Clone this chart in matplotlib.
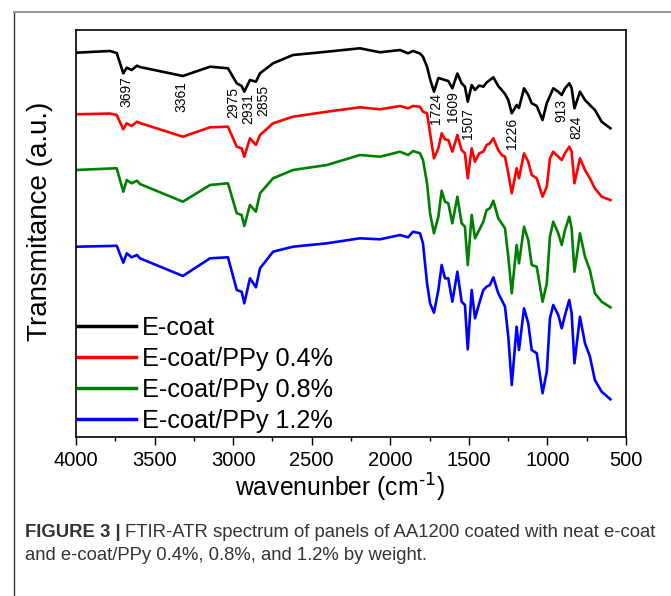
import numpy as np
import matplotlib
matplotlib.use('Agg')
import matplotlib.pyplot as plt
from matplotlib import font_manager
from matplotlib.lines import Line2D
from matplotlib.ticker import MultipleLocator

# font setup - arial-like
names = set(f.name for f in font_manager.fontManager.ttflist)
plt.rcParams['font.family'] = ['Liberation Sans', 'DejaVu Sans']
cap_font = 'Liberation Sans Narrow' if 'Liberation Sans Narrow' in names else 'Liberation Sans'

# wavenumber grid (cm-1)
wavenumber = [4000, 3784, 3741, 3699, 3677, 3646, 3612, 3593, 3320, 3147,
              3033, 2977, 2946, 2929, 2893, 2855, 2829, 2746, 2619, 2403,
              2193, 2065, 1938, 1887, 1855, 1811, 1792, 1766, 1747, 1722,
              1694, 1673, 1652, 1631, 1605, 1573, 1546, 1525, 1507, 1482,
              1461, 1434, 1408, 1387, 1366, 1344, 1313, 1291, 1270, 1249,
              1227, 1196, 1181, 1149, 1122, 1100, 1068, 1031, 1004, 984,
              963, 931, 909, 888, 861, 846, 828, 793, 761, 730,
              698, 655, 599]

# transmittance (a.u., curves already offset as in the figure)
ecoat = [38.43, 38.60, 38.40, 36.37, 36.93, 36.70, 37.13, 37.00, 36.10, 37.03,
         36.87, 35.37, 35.10, 34.53, 35.70, 35.53, 36.37, 37.37, 38.20, 38.53,
         38.87, 38.47, 38.70, 38.37, 38.60, 38.35, 38.03, 37.03, 35.80, 34.53,
         35.90, 35.80, 35.70, 35.60, 34.87, 36.35, 35.37, 35.03, 33.53, 35.20,
         34.70, 35.15, 35.03, 35.45, 35.70, 35.97, 35.10, 34.70, 34.30, 33.70,
         32.37, 33.20, 32.90, 34.87, 34.20, 33.37, 33.10, 31.70, 33.40, 34.10,
         34.87, 34.53, 34.20, 34.87, 35.37, 34.90, 32.87, 34.53, 33.70, 33.20,
         32.70, 31.53, 30.87]

ppy04 = [32.27, 32.35, 32.20, 30.77, 31.37, 31.10, 31.53, 31.40, 30.03, 30.97,
         31.03, 29.03, 28.87, 28.03, 29.87, 29.20, 30.20, 31.37, 32.03, 32.53,
         32.97, 32.77, 33.10, 32.87, 33.10, 33.03, 32.53, 32.37, 30.40, 27.87,
         28.87, 30.37, 29.77, 29.70, 28.53, 30.20, 28.70, 28.37, 25.87, 28.87,
         27.53, 28.37, 28.53, 29.20, 29.37, 29.87, 28.70, 28.20, 28.03, 26.37,
         24.37, 26.87, 25.87, 28.37, 27.53, 26.20, 25.87, 24.03, 25.03, 27.87,
         28.53, 28.03, 27.70, 28.40, 29.03, 28.53, 25.37, 27.87, 26.70, 25.87,
         24.87, 24.03, 23.70]

ppy08 = [26.70, 26.85, 26.87, 24.53, 25.70, 25.37, 25.63, 25.30, 23.53, 25.20,
         25.37, 22.37, 22.20, 21.10, 23.20, 22.53, 24.37, 25.87, 26.70, 27.20,
         28.20, 28.03, 28.53, 28.20, 28.60, 28.37, 27.70, 25.37, 22.37, 20.37,
         22.03, 24.63, 23.53, 23.37, 21.37, 24.03, 21.37, 21.03, 17.20, 22.20,
         19.87, 20.70, 21.53, 22.70, 22.87, 23.63, 21.87, 21.37, 20.87, 18.03,
         14.37, 19.20, 17.37, 21.03, 19.70, 17.20, 17.03, 13.53, 15.37, 20.03,
         21.53, 20.37, 19.20, 20.70, 22.03, 20.87, 16.53, 20.37, 18.03, 16.70,
         14.37, 13.53, 12.97]

ppy12 = [19.03, 19.10, 19.13, 17.43, 18.37, 17.97, 18.20, 17.87, 16.10, 17.87,
         17.97, 14.70, 14.53, 13.37, 15.87, 14.97, 16.87, 18.53, 19.03, 19.37,
         19.87, 19.77, 20.20, 19.97, 20.53, 20.37, 19.37, 15.37, 13.37, 12.43,
         14.70, 17.20, 15.87, 15.87, 13.53, 16.53, 13.53, 13.20, 8.77, 14.70,
         11.87, 13.37, 14.70, 15.03, 15.20, 15.97, 14.37, 13.70, 13.03, 10.03,
         5.20, 11.03, 8.70, 12.87, 11.37, 8.70, 8.37, 4.37, 6.53, 11.87,
         13.20, 12.20, 10.87, 12.20, 13.70, 12.37, 7.37, 12.03, 9.37, 8.07,
         5.70, 4.53, 3.77]

series_names = ['E-coat', 'E-coat/PPy 0.4%', 'E-coat/PPy 0.8%', 'E-coat/PPy 1.2%']
series_colors = ['black', '#ff0000', '#008000', '#0000ff']

# peak labels: text, x position (cm-1), y position (a.u.)
peak_text = ['3697', '3361', '2975', '2931', '2855', '1724', '1609', '1507', '1226', '913', '824']
peak_x = [3677, 3327, 3000, 2905, 2808, 1709, 1599, 1504, 1227, 909, 818]
peak_y = [34.5, 34.0, 33.5, 32.8, 33.65, 32.8, 33.0, 31.35, 30.35, 32.7, 31.0]

fig = plt.figure(figsize=(6.71, 5.96), dpi=100)
ax = fig.add_axes([76/671, 1-437/596, 550/671, 407/596])

for y, name, c in zip([ecoat, ppy04, ppy08, ppy12], series_names, series_colors):
    ax.plot(wavenumber, y, color=c, lw=1.9, label=name, solid_joinstyle='round')

for t, x, y in zip(peak_text, peak_x, peak_y):
    ax.text(x, y, t, rotation=90, ha='center', va='center', fontsize=10)

ax.set_xlim(4000, 500)
ax.set_ylim(0, 40.7)
ax.xaxis.set_major_locator(MultipleLocator(500))
ax.xaxis.set_minor_locator(MultipleLocator(250))
ax.tick_params(axis='x', which='major', direction='out', length=6, width=1, labelsize=14.5, pad=4)
ax.tick_params(axis='x', which='minor', direction='out', length=3, width=1)
ax.set_yticks([])
for s in ax.spines.values():
    s.set_linewidth(1.2)

ax.set_xlabel('wavenunber (cm$^{\\text{-}1}$)', fontsize=17.8, labelpad=2)
ax.xaxis.set_label_coords(0.48, -0.085)
ax.set_ylabel('Transmitance (a.u.)', fontsize=20)
ax.yaxis.set_label_coords(-0.042, 0.53)

leg = ax.legend(loc='lower left', frameon=False, fontsize=18.2, handlelength=2.3,
                handletextpad=0.25, labelspacing=0.28, borderaxespad=0, borderpad=0,
                bbox_to_anchor=(0.003, 0.01))
for h in leg.get_lines():
    h.set_linewidth(2.5)

# outer frame of the figure panel
fig.add_artist(Line2D([14/671, 14/671], [0, 1-12/596], color='#333333', lw=1))
fig.add_artist(Line2D([14/671, 1], [1-12/596, 1-12/596], color='#999999', lw=1.5))

# caption
fig.canvas.draw()
r = fig.canvas.get_renderer()
cap_kw = dict(fontsize=13.3, color='#333333', family=cap_font)
b = fig.text(25/671, 1-537/596, 'FIGURE 3 |', fontweight='bold', **cap_kw)
bb = b.get_window_extent(r)
fig.text(bb.x1/671 + 4/671, 1-537/596,
         'FTIR-ATR spectrum of panels of AA1200 coated with neat e-coat', **cap_kw)
fig.text(25/671, 1-560/596, 'and e-coat/PPy 0.4%, 0.8%, and 1.2% by weight.', **cap_kw)

fig.savefig('out.png', dpi=100)
